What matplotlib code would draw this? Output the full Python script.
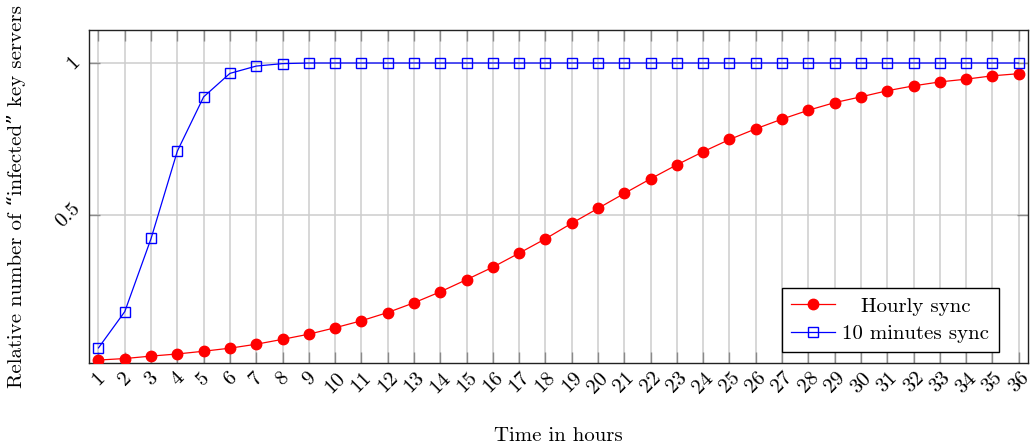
import matplotlib
matplotlib.use("Agg")
import matplotlib.pyplot as plt
from matplotlib.transforms import Affine2D

# Hours since the start of propagation
hours = list(range(1, 37))

# Fraction of key servers holding the new key
hourly_sync = [0.025, 0.030, 0.038, 0.045, 0.054, 0.064, 0.077, 0.093, 0.110, 0.131,
               0.154, 0.181, 0.213, 0.249, 0.289, 0.330, 0.376, 0.423, 0.474, 0.523,
               0.572, 0.620, 0.666, 0.709, 0.749, 0.784, 0.816, 0.845, 0.870, 0.889,
               0.909, 0.925, 0.938, 0.947, 0.958, 0.965]
ten_min_sync = [0.065, 0.184, 0.424, 0.711, 0.889, 0.966, 0.990, 0.998] + [1.0] * 28

y_ticks = [0.5, 1.0]
y_tick_labels = ["0.5", "1"]

plt.rcParams["font.family"] = ["cmr10", "DejaVu Serif"]
plt.rcParams["axes.formatter.use_mathtext"] = True
FS = 15

fig = plt.figure(figsize=(10.31, 4.47), dpi=100)
ax = fig.add_axes([0.0866, 0.187, 0.997 - 0.0866, 0.934 - 0.187])

ax.plot(hours, hourly_sync, color="red", lw=0.9, marker="o", markersize=7.5,
        markerfacecolor="red", markeredgecolor="red", label="Hourly sync", zorder=3)
ax.plot(hours, ten_min_sync, color="blue", lw=0.9, marker="s", markersize=7.5,
        markerfacecolor="none", markeredgecolor="blue", markeredgewidth=1.0,
        label="10 minutes sync", zorder=3)

ax.set_xlim(0.65, 36.35)
ax.set_ylim(0.014, 1.11)

ax.set_xticks(hours)
ax.set_xticklabels([str(h) for h in hours], rotation=45, fontsize=FS,
                   ha="center", va="top")
ax.set_yticks(y_ticks)
ax.set_yticklabels(y_tick_labels, rotation=45, fontsize=FS, va="center", ha="right")

ax.grid(True, color="#cdcdcd", lw=1.1, zorder=0)
ax.set_axisbelow(True)
ax.tick_params(direction="in", length=8, width=1.0, color="#8a8a8a",
               top=True, right=True, pad=4)

for s in ax.spines.values():
    s.set_linewidth(1.0)
    s.set_color("#222222")

ax.set_xlabel("Time in hours", fontsize=FS)
ax.set_ylabel("Relative number of \u201cinfected\u201d key servers", fontsize=FS)
ax.yaxis.set_label_coords(-0.067, 0.5)
ax.xaxis.set_label_coords(0.5, -0.19)

leg = ax.legend(loc="lower right", bbox_to_anchor=(0.969, 0.033), borderaxespad=0,
                fontsize=FS, frameon=True, fancybox=False, framealpha=1,
                edgecolor="black", handlelength=2.1, borderpad=0.45,
                labelspacing=0.42, handletextpad=0.35)
leg.get_frame().set_linewidth(1.0)

# Center the legend entries' labels within the label column
fig.canvas.draw()
renderer = fig.canvas.get_renderer()
texts = leg.get_texts()
widths = [t.get_window_extent(renderer).width for t in texts]
col_w = max(widths)
for t, w in zip(texts, widths):
    shift = (col_w - w) / 2.0
    if shift > 0:
        t.set_transform(t.get_transform() + Affine2D().translate(shift, 0))

fig.savefig("out.png", dpi=100)
